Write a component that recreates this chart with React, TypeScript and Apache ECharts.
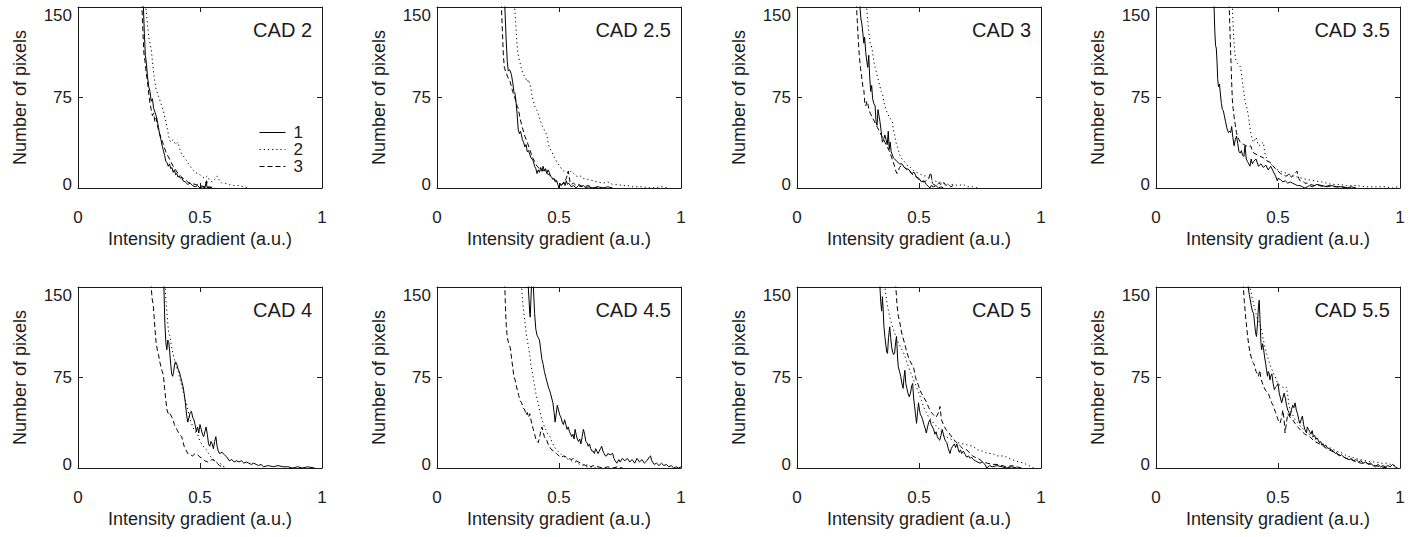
import React, { useEffect, useRef } from "react";
import * as echarts from "echarts";

// ---------- Tick values / labels ----------
const X_TICKS = [0, 0.5, 1];
const Y_TICKS = [0, 75, 150];
const X_NAME = "Intensity gradient (a.u.)";
const Y_NAME = "Number of pixels";
const SERIES_NAMES = ["1", "2", "3"];
const PANEL_TITLES = ["CAD 2", "CAD 2.5", "CAD 3", "CAD 3.5", "CAD 4", "CAD 4.5", "CAD 5", "CAD 5.5"];

type P = [number, number];

// ---------- CAD 2 ----------
const CAD2_1: P[] = [[0.26,260],[0.268,150],[0.272,128],[0.276,110],[0.28,104],[0.285,92],[0.29,84],[0.295,80],[0.30,72],[0.305,74],[0.31,66],[0.315,63],[0.32,60],[0.325,56],[0.33,50],[0.335,44],[0.34,40],[0.345,35],[0.35,31],[0.355,27],[0.36,22],[0.365,21],[0.37,18],[0.375,20],[0.38,16],[0.385,17],[0.39,13],[0.395,15],[0.40,11],[0.405,12],[0.41,9],[0.415,10],[0.42,8],[0.425,9],[0.43,6],[0.44,5],[0.45,3],[0.46,4],[0.47,2],[0.48,1],[0.49,2],[0.50,0],[0.51,1],[0.52,0],[0.525,5],[0.53,0],[0.54,1],[0.55,0]];
const CAD2_2: P[] = [[0.27,260],[0.278,150],[0.285,135],[0.29,125],[0.295,120],[0.30,115],[0.305,105],[0.31,95],[0.315,88],[0.32,82],[0.33,76],[0.34,70],[0.35,64],[0.36,55],[0.37,45],[0.375,40],[0.38,38],[0.39,40],[0.40,36],[0.41,38],[0.42,30],[0.43,27],[0.44,24],[0.45,21],[0.46,18],[0.47,15],[0.48,13],[0.49,12],[0.50,11],[0.51,9],[0.52,8],[0.53,10],[0.54,6],[0.55,5],[0.56,7],[0.57,10],[0.58,6],[0.59,4],[0.60,4],[0.62,3],[0.64,2],[0.66,2],[0.68,1],[0.70,0]];
const CAD2_3: P[] = [[0.255,260],[0.262,150],[0.266,130],[0.27,112],[0.274,106],[0.28,95],[0.285,88],[0.29,78],[0.295,70],[0.30,65],[0.305,60],[0.31,62],[0.315,55],[0.32,58],[0.325,52],[0.33,48],[0.34,42],[0.35,36],[0.36,30],[0.37,26],[0.38,22],[0.39,18],[0.40,15],[0.41,12],[0.42,10],[0.43,8],[0.44,7],[0.45,5],[0.46,4],[0.48,3],[0.50,2],[0.52,1],[0.527,6],[0.535,0],[0.55,1],[0.56,0]];

// ---------- CAD 2.5 ----------
const CAD25_1: P[] = [[0.272,260],[0.278,150],[0.283,125],[0.288,105],[0.292,97],[0.298,98],[0.305,94],[0.31,88],[0.315,80],[0.319,79],[0.323,73],[0.328,62],[0.333,48],[0.338,45],[0.342,47],[0.346,44],[0.35,40],[0.355,38],[0.36,34],[0.365,36],[0.37,30],[0.375,31],[0.38,28],[0.385,25],[0.39,24],[0.395,22],[0.40,18],[0.405,16],[0.41,12],[0.415,15],[0.42,13],[0.425,17],[0.43,14],[0.435,18],[0.44,14],[0.445,16],[0.45,12],[0.455,15],[0.46,13],[0.465,10],[0.47,9],[0.475,7],[0.48,8],[0.485,5],[0.49,6],[0.495,3],[0.50,0],[0.505,3],[0.51,2],[0.52,5],[0.525,2],[0.53,6],[0.535,3],[0.54,4],[0.55,1],[0.56,2],[0.57,0],[0.58,2],[0.59,1],[0.60,2],[0.61,0],[0.62,1],[0.64,0],[0.66,1],[0.68,0],[0.70,1],[0.72,0]];
const CAD25_2: P[] = [[0.312,260],[0.318,150],[0.322,138],[0.326,125],[0.33,114],[0.335,108],[0.34,104],[0.345,100],[0.35,96],[0.36,92],[0.37,88],[0.375,90],[0.38,86],[0.385,82],[0.39,76],[0.395,72],[0.40,68],[0.41,64],[0.42,58],[0.43,52],[0.44,48],[0.45,44],[0.455,38],[0.46,34],[0.47,30],[0.48,26],[0.49,22],[0.50,19],[0.51,16],[0.52,14],[0.53,13],[0.54,12],[0.55,14],[0.56,12],[0.57,10],[0.58,9],[0.59,10],[0.60,8],[0.62,7],[0.64,6],[0.66,5],[0.68,4],[0.70,5],[0.72,3],[0.74,3],[0.76,2],[0.78,2],[0.80,1],[0.84,1],[0.88,0],[0.92,1],[0.95,0]];
const CAD25_3: P[] = [[0.258,260],[0.264,150],[0.268,130],[0.272,110],[0.276,100],[0.282,96],[0.29,92],[0.30,88],[0.31,80],[0.32,74],[0.328,68],[0.333,66],[0.34,58],[0.35,50],[0.36,43],[0.37,38],[0.38,32],[0.39,26],[0.40,22],[0.41,18],[0.42,16],[0.43,14],[0.44,15],[0.45,12],[0.46,11],[0.47,9],[0.48,7],[0.49,6],[0.50,4],[0.51,3],[0.52,4],[0.53,8],[0.538,14],[0.545,5],[0.55,3],[0.56,4],[0.57,2],[0.58,3],[0.60,1],[0.62,2],[0.64,0],[0.66,1],[0.68,0]];

// ---------- CAD 3 ----------
const CAD3_1: P[] = [[0.252,260],[0.258,150],[0.262,140],[0.266,136],[0.27,128],[0.274,120],[0.277,125],[0.282,112],[0.286,105],[0.29,100],[0.294,110],[0.298,92],[0.302,80],[0.306,85],[0.31,74],[0.315,70],[0.32,68],[0.324,55],[0.328,52],[0.332,65],[0.336,60],[0.34,55],[0.345,47],[0.35,38],[0.355,40],[0.36,44],[0.365,40],[0.37,36],[0.374,47],[0.378,32],[0.382,38],[0.386,30],[0.39,28],[0.395,25],[0.40,24],[0.41,22],[0.42,20],[0.43,20],[0.44,17],[0.45,16],[0.46,15],[0.47,12],[0.48,13],[0.49,9],[0.50,8],[0.51,5],[0.52,6],[0.53,3],[0.54,1],[0.545,0],[0.55,2],[0.56,1],[0.57,2],[0.58,0],[0.59,1],[0.60,0]];
const CAD3_2: P[] = [[0.279,260],[0.285,150],[0.29,138],[0.295,128],[0.30,120],[0.305,118],[0.31,112],[0.315,105],[0.32,100],[0.325,96],[0.33,92],[0.335,88],[0.34,84],[0.345,80],[0.35,79],[0.355,72],[0.36,68],[0.37,62],[0.38,58],[0.39,56],[0.395,48],[0.40,44],[0.405,38],[0.41,35],[0.415,32],[0.42,28],[0.43,24],[0.44,22],[0.45,19],[0.46,18],[0.47,16],[0.48,14],[0.49,13],[0.50,12],[0.51,11],[0.52,10],[0.53,10],[0.54,8],[0.55,7],[0.56,6],[0.58,5],[0.60,4],[0.62,3],[0.64,3],[0.66,2],[0.68,3],[0.70,1],[0.72,1],[0.74,0]];
const CAD3_3: P[] = [[0.238,260],[0.244,150],[0.248,135],[0.252,120],[0.256,108],[0.26,100],[0.265,92],[0.27,84],[0.274,81],[0.278,70],[0.282,68],[0.286,72],[0.29,70],[0.295,65],[0.30,62],[0.31,58],[0.32,54],[0.33,50],[0.34,46],[0.35,42],[0.36,38],[0.37,34],[0.38,30],[0.39,24],[0.40,18],[0.405,14],[0.41,12],[0.415,14],[0.42,17],[0.43,19],[0.44,17],[0.45,15],[0.46,14],[0.47,12],[0.48,10],[0.49,9],[0.50,7],[0.51,6],[0.52,5],[0.53,6],[0.54,8],[0.548,13],[0.555,4],[0.56,3],[0.57,2],[0.58,4],[0.59,3],[0.60,5],[0.61,2],[0.62,3],[0.63,1],[0.64,2],[0.65,0]];

// ---------- CAD 3.5 ----------
const CAD35_1: P[] = [[0.232,260],[0.238,150],[0.241,130],[0.244,118],[0.247,116],[0.25,105],[0.253,90],[0.256,84],[0.26,86],[0.264,78],[0.268,70],[0.272,65],[0.276,64],[0.28,60],[0.285,55],[0.29,50],[0.293,48],[0.297,46],[0.30,47],[0.306,46],[0.31,51],[0.315,42],[0.32,35],[0.325,40],[0.33,43],[0.335,37],[0.34,30],[0.345,29],[0.35,31],[0.355,27],[0.36,26],[0.365,35],[0.37,24],[0.375,22],[0.38,20],[0.385,18],[0.39,24],[0.395,20],[0.40,22],[0.41,24],[0.42,18],[0.43,20],[0.44,17],[0.45,19],[0.46,15],[0.47,18],[0.48,14],[0.49,10],[0.497,6],[0.50,8],[0.51,7],[0.52,5],[0.53,6],[0.54,4],[0.55,5],[0.56,4],[0.57,3],[0.58,2],[0.59,2],[0.60,1],[0.61,0],[0.62,1],[0.63,2],[0.64,1],[0.66,3],[0.68,2],[0.70,1],[0.72,2],[0.74,1],[0.76,1],[0.78,0],[0.80,1],[0.82,0]];
const CAD35_2: P[] = [[0.307,260],[0.313,150],[0.316,135],[0.32,120],[0.325,108],[0.33,104],[0.34,102],[0.347,100],[0.352,92],[0.358,82],[0.365,72],[0.37,68],[0.374,65],[0.38,58],[0.385,50],[0.39,44],[0.395,40],[0.40,38],[0.41,42],[0.42,35],[0.43,36],[0.44,38],[0.445,30],[0.45,26],[0.456,24],[0.46,22],[0.47,20],[0.48,18],[0.49,16],[0.50,15],[0.51,14],[0.52,13],[0.54,12],[0.56,10],[0.58,9],[0.60,8],[0.62,7],[0.65,6],[0.68,5],[0.70,4],[0.72,3],[0.75,3],[0.78,2],[0.82,2],[0.86,1],[0.90,1],[0.94,1],[0.97,0],[0.99,1]];
const CAD35_3: P[] = [[0.294,260],[0.30,150],[0.302,138],[0.304,125],[0.306,112],[0.308,100],[0.31,88],[0.313,73],[0.316,66],[0.32,59],[0.325,52],[0.33,46],[0.333,43],[0.34,40],[0.345,38],[0.35,37],[0.36,36],[0.37,35],[0.38,34],[0.388,35],[0.395,31],[0.40,29],[0.41,28],[0.42,27],[0.43,26],[0.44,25],[0.45,23],[0.46,22],[0.47,21],[0.48,18],[0.49,16],[0.50,14],[0.51,12],[0.52,11],[0.53,10],[0.537,10],[0.545,12],[0.555,9],[0.565,11],[0.578,14],[0.585,8],[0.59,6],[0.60,6],[0.61,4],[0.62,4],[0.63,3],[0.65,2],[0.67,2],[0.69,1],[0.71,2],[0.73,1],[0.76,1],[0.80,0]];

// ---------- CAD 4 ----------
const CAD4_1: P[] = [[0.347,260],[0.352,150],[0.356,120],[0.36,104],[0.364,98],[0.368,106],[0.372,104],[0.376,96],[0.38,86],[0.384,78],[0.388,76],[0.392,80],[0.396,86],[0.40,88],[0.405,86],[0.41,82],[0.415,80],[0.42,76],[0.425,72],[0.43,68],[0.435,62],[0.44,54],[0.445,44],[0.45,38],[0.455,42],[0.46,46],[0.465,47],[0.47,42],[0.475,40],[0.48,36],[0.485,30],[0.49,34],[0.495,29],[0.50,36],[0.505,32],[0.51,28],[0.515,26],[0.52,30],[0.525,34],[0.53,28],[0.535,20],[0.54,18],[0.545,22],[0.55,20],[0.555,16],[0.56,22],[0.565,26],[0.57,18],[0.575,14],[0.58,12],[0.59,13],[0.60,11],[0.61,9],[0.62,6],[0.63,7],[0.64,5],[0.65,6],[0.66,5],[0.67,6],[0.68,4],[0.69,5],[0.70,4],[0.71,3],[0.72,4],[0.73,3],[0.74,2],[0.75,3],[0.76,1],[0.78,2],[0.80,1],[0.82,2],[0.84,1],[0.86,1],[0.88,0],[0.90,1],[0.92,0],[0.94,1],[0.97,0]];
const CAD4_2: P[] = [[0.352,260],[0.357,150],[0.36,140],[0.364,130],[0.368,120],[0.372,112],[0.377,109],[0.382,102],[0.388,96],[0.395,90],[0.40,86],[0.405,83],[0.41,81],[0.415,76],[0.42,72],[0.425,68],[0.43,64],[0.435,60],[0.44,56],[0.445,53],[0.45,48],[0.455,44],[0.46,40],[0.466,37],[0.47,34],[0.48,30],[0.49,28],[0.493,26],[0.50,22],[0.51,19],[0.52,16],[0.527,15],[0.535,12],[0.545,9],[0.555,7],[0.565,5],[0.575,4],[0.582,4],[0.59,2],[0.60,1],[0.61,0]];
const CAD4_3: P[] = [[0.296,260],[0.30,150],[0.304,140],[0.308,136],[0.312,125],[0.316,114],[0.32,104],[0.325,98],[0.33,94],[0.335,88],[0.34,84],[0.345,80],[0.35,77],[0.355,66],[0.36,56],[0.365,48],[0.37,45],[0.375,46],[0.38,44],[0.385,42],[0.39,40],[0.395,36],[0.40,34],[0.405,32],[0.41,30],[0.415,28],[0.42,27],[0.425,26],[0.43,22],[0.435,18],[0.44,16],[0.445,14],[0.45,12],[0.455,11],[0.46,11],[0.47,10],[0.48,12],[0.49,11],[0.50,9],[0.51,8],[0.52,6],[0.53,5],[0.54,6],[0.55,7],[0.56,6],[0.57,4],[0.58,2],[0.59,1],[0.60,0]];

// ---------- CAD 4.5 ----------
const CAD45_1: P[] = [[0.37,260],[0.374,150],[0.377,140],[0.38,128],[0.382,125],[0.385,140],[0.387,150],[0.39,170],[0.395,150],[0.40,128],[0.405,115],[0.41,110],[0.415,108],[0.42,106],[0.425,98],[0.43,90],[0.435,86],[0.44,80],[0.445,76],[0.45,72],[0.455,68],[0.46,65],[0.465,62],[0.47,58],[0.475,54],[0.48,46],[0.484,38],[0.488,44],[0.493,52],[0.498,48],[0.503,44],[0.508,42],[0.513,38],[0.518,36],[0.523,40],[0.528,36],[0.533,32],[0.538,34],[0.543,30],[0.548,28],[0.552,26],[0.557,28],[0.562,24],[0.566,32],[0.57,28],[0.575,24],[0.58,22],[0.585,24],[0.59,20],[0.595,26],[0.60,32],[0.605,28],[0.61,22],[0.615,21],[0.62,18],[0.625,20],[0.63,16],[0.635,14],[0.64,14],[0.645,12],[0.65,16],[0.655,14],[0.66,12],[0.665,14],[0.67,16],[0.675,18],[0.68,14],[0.685,12],[0.69,10],[0.695,10],[0.70,12],[0.71,11],[0.72,12],[0.725,8],[0.73,6],[0.737,4],[0.745,7],[0.75,5],[0.76,8],[0.77,6],[0.78,8],[0.79,5],[0.80,7],[0.81,4],[0.82,8],[0.83,5],[0.84,7],[0.85,4],[0.86,6],[0.87,9],[0.875,10],[0.88,6],[0.89,3],[0.90,4],[0.91,2],[0.92,4],[0.93,2],[0.94,3],[0.95,1],[0.96,2],[0.97,0],[0.98,1],[0.99,0],[1.0,1]];
const CAD45_2: P[] = [[0.343,260],[0.347,150],[0.35,140],[0.355,130],[0.36,122],[0.365,112],[0.37,106],[0.375,100],[0.38,94],[0.385,85],[0.39,80],[0.395,74],[0.40,68],[0.405,62],[0.41,57],[0.415,54],[0.42,48],[0.425,44],[0.43,40],[0.436,37],[0.44,34],[0.445,32],[0.45,30],[0.455,28],[0.463,26],[0.47,22],[0.48,18],[0.49,15],[0.50,13],[0.51,11],[0.518,10],[0.53,8],[0.54,7],[0.55,6],[0.56,5],[0.573,5],[0.585,3],[0.60,2],[0.61,1],[0.63,1],[0.65,0]];
const CAD45_3: P[] = [[0.274,260],[0.278,150],[0.281,130],[0.284,118],[0.288,108],[0.293,104],[0.30,100],[0.305,92],[0.31,84],[0.315,76],[0.32,73],[0.325,68],[0.33,64],[0.335,60],[0.34,56],[0.347,54],[0.353,50],[0.36,48],[0.365,44],[0.37,46],[0.375,42],[0.38,45],[0.385,40],[0.39,35],[0.395,32],[0.40,28],[0.405,24],[0.41,22],[0.415,21],[0.42,25],[0.425,30],[0.43,34],[0.435,30],[0.44,26],[0.445,24],[0.45,23],[0.455,20],[0.46,18],[0.47,15],[0.48,14],[0.49,12],[0.50,10],[0.51,9],[0.52,10],[0.53,9],[0.54,8],[0.55,7],[0.56,8],[0.57,6],[0.58,5],[0.59,4],[0.60,3],[0.61,2],[0.62,3],[0.63,1],[0.64,2],[0.66,1],[0.68,0],[0.70,1],[0.72,0],[0.74,1],[0.76,0]];

// ---------- CAD 5 ----------
const CAD5_1: P[] = [[0.336,260],[0.34,150],[0.343,138],[0.347,130],[0.35,142],[0.353,132],[0.356,118],[0.36,109],[0.364,102],[0.368,96],[0.371,95],[0.375,108],[0.38,117],[0.384,108],[0.388,100],[0.392,96],[0.396,94],[0.40,95],[0.404,104],[0.408,109],[0.412,92],[0.415,84],[0.42,80],[0.425,76],[0.43,70],[0.435,66],[0.438,74],[0.442,81],[0.446,70],[0.45,66],[0.455,62],[0.46,59],[0.465,62],[0.47,68],[0.474,70],[0.478,58],[0.482,51],[0.486,44],[0.49,37],[0.494,46],[0.498,54],[0.502,48],[0.506,44],[0.51,43],[0.515,40],[0.52,36],[0.525,33],[0.53,29],[0.535,34],[0.54,38],[0.545,40],[0.55,36],[0.555,34],[0.56,32],[0.565,28],[0.57,30],[0.575,26],[0.58,24],[0.585,23],[0.59,27],[0.595,32],[0.60,28],[0.605,24],[0.61,22],[0.614,21],[0.62,16],[0.627,12],[0.632,16],[0.638,18],[0.645,20],[0.65,17],[0.655,20],[0.66,16],[0.665,13],[0.67,15],[0.675,12],[0.682,14],[0.69,11],[0.695,9],[0.703,10],[0.71,8],[0.715,9],[0.723,7],[0.73,6],[0.74,5],[0.75,4],[0.76,5],[0.77,3],[0.778,0],[0.79,2],[0.80,1],[0.82,2],[0.84,1],[0.86,0],[0.88,1],[0.90,0]];
const CAD5_2: P[] = [[0.355,260],[0.36,150],[0.37,135],[0.38,125],[0.39,118],[0.40,112],[0.41,106],[0.42,102],[0.43,98],[0.44,94],[0.45,88],[0.46,82],[0.47,77],[0.48,72],[0.49,67],[0.50,62],[0.51,56],[0.52,50],[0.53,46],[0.54,42],[0.55,40],[0.56,37],[0.57,35],[0.58,33],[0.59,30],[0.60,27],[0.62,25],[0.64,23],[0.66,21],[0.68,20],[0.70,19],[0.72,18],[0.74,15],[0.76,14],[0.78,12],[0.80,12],[0.82,10],[0.85,10],[0.88,7],[0.91,5],[0.93,4],[0.95,2],[0.97,0]];
const CAD5_3: P[] = [[0.40,260],[0.405,150],[0.41,135],[0.415,126],[0.42,122],[0.43,111],[0.44,104],[0.45,96],[0.46,90],[0.47,86],[0.477,84],[0.485,76],[0.49,72],[0.497,69],[0.505,64],[0.51,62],[0.518,59],[0.53,55],[0.54,50],[0.55,46],[0.56,44],[0.57,42],[0.58,46],[0.586,51],[0.592,40],[0.60,36],[0.61,32],[0.62,30],[0.63,27],[0.64,24],[0.65,22],[0.66,20],[0.67,18],[0.68,16],[0.696,15],[0.71,12],[0.72,10],[0.737,8],[0.75,7],[0.76,5],[0.78,4],[0.80,3],[0.82,3],[0.84,2],[0.86,1],[0.88,2],[0.90,1],[0.92,0]];

// ---------- CAD 5.5 ----------
const CAD55_1: P[] = [[0.372,260],[0.378,150],[0.382,144],[0.386,140],[0.39,135],[0.395,130],[0.40,128],[0.404,120],[0.408,112],[0.412,109],[0.416,120],[0.42,134],[0.423,139],[0.427,120],[0.43,104],[0.433,98],[0.437,103],[0.44,100],[0.445,92],[0.45,86],[0.453,81],[0.457,76],[0.46,80],[0.464,78],[0.467,73],[0.47,76],[0.475,78],[0.48,70],[0.485,65],[0.49,67],[0.495,68],[0.50,70],[0.505,62],[0.51,58],[0.515,54],[0.52,58],[0.525,62],[0.53,58],[0.535,52],[0.54,48],[0.545,46],[0.549,43],[0.555,48],[0.56,52],[0.565,50],[0.57,54],[0.575,48],[0.58,45],[0.585,40],[0.59,37],[0.595,40],[0.60,43],[0.605,36],[0.61,32],[0.617,29],[0.62,34],[0.625,32],[0.63,30],[0.635,28],[0.64,31],[0.645,26],[0.65,27],[0.655,24],[0.66,25],[0.665,23],[0.67,21],[0.675,22],[0.68,19],[0.685,20],[0.69,18],[0.695,19],[0.70,17],[0.71,16],[0.72,15],[0.727,14],[0.735,12],[0.74,13],[0.745,11],[0.754,10],[0.76,11],[0.77,9],[0.78,8],[0.79,7],[0.795,7],[0.80,8],[0.81,6],[0.82,7],[0.83,5],[0.84,6],[0.85,4],[0.86,5],[0.87,3],[0.88,4],[0.89,2],[0.90,1],[0.91,3],[0.92,1],[0.93,2],[0.94,1],[0.95,2],[0.96,1],[0.97,3],[0.98,1],[0.99,0]];
const CAD55_2: P[] = [[0.38,260],[0.385,150],[0.39,145],[0.395,140],[0.40,136],[0.405,132],[0.41,128],[0.415,124],[0.42,122],[0.426,120],[0.43,116],[0.435,112],[0.44,106],[0.447,100],[0.453,95],[0.46,90],[0.47,84],[0.48,79],[0.488,76],[0.495,72],[0.50,70],[0.51,68],[0.52,67],[0.53,66],[0.535,67],[0.54,60],[0.545,52],[0.55,48],[0.56,44],[0.57,40],[0.58,38],[0.59,35],[0.60,33],[0.604,32],[0.62,29],[0.64,26],[0.66,23],[0.68,20],[0.70,18],[0.72,16],[0.74,14],[0.768,12],[0.78,10],[0.80,9],[0.836,7],[0.86,6],[0.88,5],[0.90,5],[0.92,4],[0.945,4],[0.96,3],[0.98,2],[0.99,1]];
const CAD55_3: P[] = [[0.353,260],[0.358,150],[0.362,138],[0.366,128],[0.37,120],[0.375,110],[0.38,102],[0.385,96],[0.39,92],[0.395,88],[0.40,87],[0.405,84],[0.41,80],[0.415,78],[0.42,76],[0.425,81],[0.43,74],[0.44,68],[0.45,64],[0.46,62],[0.467,58],[0.474,54],[0.48,52],[0.49,46],[0.50,40],[0.508,37],[0.515,42],[0.52,48],[0.525,40],[0.529,29],[0.535,38],[0.54,45],[0.55,42],[0.56,40],[0.57,37],[0.58,34],[0.59,32],[0.60,30],[0.61,28],[0.62,27],[0.63,26],[0.64,24],[0.65,22],[0.66,21],[0.67,20],[0.686,18],[0.70,16],[0.72,14],[0.74,12],[0.76,10],[0.78,8],[0.80,7],[0.82,5],[0.84,4],[0.86,4],[0.88,3],[0.90,2],[0.92,1],[0.95,0]];

const PANEL_DATA: P[][][] = [
  [CAD2_1, CAD2_2, CAD2_3],
  [CAD25_1, CAD25_2, CAD25_3],
  [CAD3_1, CAD3_2, CAD3_3],
  [CAD35_1, CAD35_2, CAD35_3],
  [CAD4_1, CAD4_2, CAD4_3],
  [CAD45_1, CAD45_2, CAD45_3],
  [CAD5_1, CAD5_2, CAD5_3],
  [CAD55_1, CAD55_2, CAD55_3],
];

// ---------- Layout / styles ----------
const COL_LEFT = [78, 437, 797, 1156];
const ROW_TOP = [7, 287];
const PLOT_W = 244;
const PLOT_H = 181;
const INK = "#1c1c1c";
const FONT = "'Liberation Sans', Arial, Helvetica, sans-serif";
const LINE_TYPES: any[] = ["solid", [1.2, 3], [5, 3]];

export default function App() {
  const ref = useRef<HTMLDivElement>(null);

  useEffect(() => {
    if (!ref.current) return;
    const chart = echarts.init(ref.current, undefined, { renderer: "svg" });

    const grids: any[] = [];
    const xAxes: any[] = [];
    const yAxes: any[] = [];
    const series: any[] = [];
    const graphics: any[] = [];

    const xMin = X_TICKS[0];
    const xMax = X_TICKS[X_TICKS.length - 1];
    const xInt = X_TICKS[1] - X_TICKS[0];
    const yMin = Y_TICKS[0];
    const yMax = Y_TICKS[Y_TICKS.length - 1];
    const yInt = Y_TICKS[1] - Y_TICKS[0];

    const axisLine = { show: true, onZero: false, lineStyle: { color: INK, width: 1 } };
    const tick = { show: true, inside: true, length: 5, lineStyle: { color: INK, width: 1 } };

    PANEL_DATA.forEach((panel, i) => {
      const col = i % 4;
      const row = Math.floor(i / 4);
      const left = COL_LEFT[col];
      const top = ROW_TOP[row];
      grids.push({ left, top, width: PLOT_W, height: PLOT_H, containLabel: false });

      xAxes.push({
        type: "value", gridIndex: i, min: xMin, max: xMax, interval: xInt,
        position: "bottom",
        axisLine, axisTick: tick, splitLine: { show: false },
        axisLabel: { show: true, margin: 21, fontSize: 17, color: INK, fontFamily: FONT,
          formatter: (v: number) => String(v) },
        name: X_NAME, nameLocation: "middle", nameGap: 42,
        nameTextStyle: { fontSize: 18, color: INK, fontFamily: FONT },
      });
      xAxes.push({
        type: "value", gridIndex: i, min: xMin, max: xMax, interval: xInt,
        position: "top",
        axisLine, axisTick: tick, splitLine: { show: false }, axisLabel: { show: false },
      });
      yAxes.push({
        type: "value", gridIndex: i, min: yMin, max: yMax, interval: yInt,
        position: "left",
        axisLine, axisTick: tick, splitLine: { show: false },
        axisLabel: {
          show: true, margin: 6, fontSize: 17, color: INK, fontFamily: FONT,
          formatter: (v: number) => (v === yMax ? `{t|${v}}` : v === yMin ? `{b|${v}}` : String(v)),
          rich: {
            t: { fontSize: 17, color: INK, fontFamily: FONT, padding: [16, 0, 0, 0] },
            b: { fontSize: 17, color: INK, fontFamily: FONT, padding: [0, 0, 8, 0] },
          },
        },
        name: Y_NAME, nameLocation: "middle", nameGap: 49,
        nameTextStyle: { fontSize: 18, color: INK, fontFamily: FONT },
      });
      yAxes.push({
        type: "value", gridIndex: i, min: yMin, max: yMax, interval: yInt,
        position: "right",
        axisLine, axisTick: tick, splitLine: { show: false }, axisLabel: { show: false },
      });

      panel.forEach((data, k) => {
        series.push({
          type: "line", name: SERIES_NAMES[k], data,
          xAxisIndex: 2 * i, yAxisIndex: 2 * i,
          symbol: "none", clip: true, silent: true,
          lineStyle: { color: "#000", width: 1, type: LINE_TYPES[k] },
          itemStyle: { color: "#000" },
        });
      });

      graphics.push({
        type: "text", x: left + PLOT_W - 10, y: top + 23,
        style: { text: PANEL_TITLES[i], fontSize: 20, fill: INK, fontFamily: FONT,
          textAlign: "right", textVerticalAlign: "middle" },
      });
    });

    chart.setOption({
      animation: false,
      backgroundColor: "#fff",
      textStyle: { fontFamily: FONT },
      grid: grids,
      xAxis: xAxes,
      yAxis: yAxes,
      series,
      graphic: graphics,
      legend: {
        data: SERIES_NAMES, orient: "vertical", left: 254, top: 119,
        itemWidth: 26, itemHeight: 12, itemGap: 0,
        selectedMode: false,
        itemStyle: { opacity: 0 },
        lineStyle: { width: 1 },
        textStyle: { fontSize: 17, lineHeight: 15, height: 15, color: INK, fontFamily: FONT, padding: [0, 0, 0, 3] },
      },
    });

    return () => chart.dispose();
  }, []);

  return (
    <div
      ref={ref}
      style={{ position: "absolute", left: 0, top: 0, width: 1415, height: 537, background: "#fff" }}
    />
  );
}
